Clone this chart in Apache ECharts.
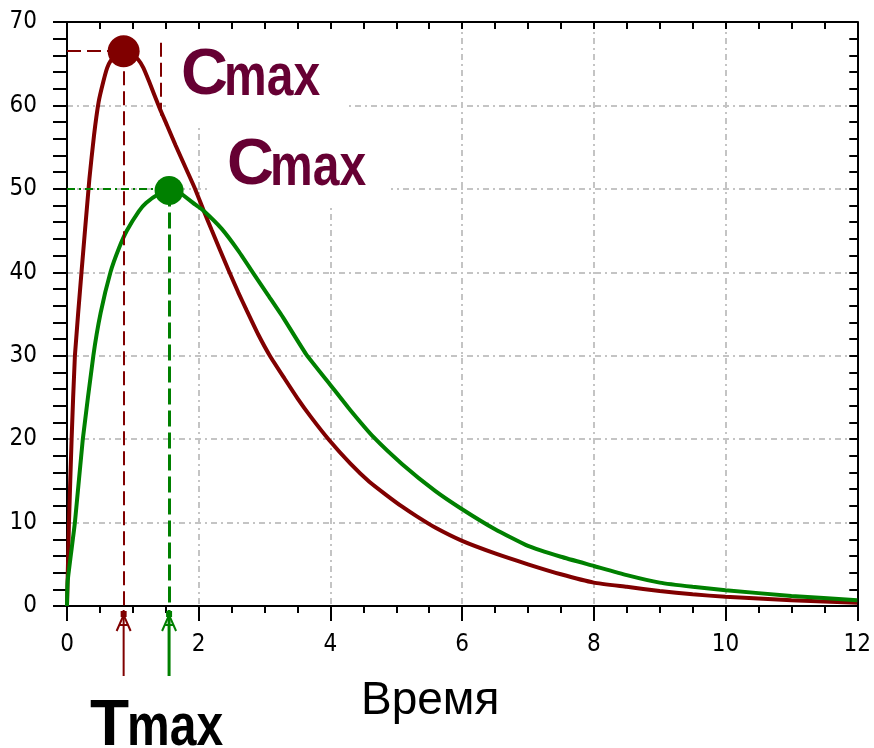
<!DOCTYPE html>
<html>
<head>
<meta charset="utf-8">
<script src="https://cdn.jsdelivr.net/npm/echarts@6/dist/echarts.min.js"></script>
<style>
  html, body { margin: 0; padding: 0; background: #fff; }
  #chart { width: 874px; height: 748px; }
</style>
</head>
<body>
<div id="chart"></div>
<script>
// кривые концентрации (время, ч / концентрация)
var redTime = [0, 0.03, 0.07, 0.12, 0.22, 0.34, 0.41, 0.48, 0.55, 0.61, 0.66, 0.76, 0.86, 0.96, 1.08, 1.16, 1.25, 1.41, 1.52, 1.65, 1.82, 1.95, 2.07, 2.2, 2.45, 2.6, 2.73, 2.9, 3.08, 3.3, 3.5, 3.7, 3.98, 4.3, 4.59, 4.85, 5.09, 5.3, 5.59, 6.0, 6.5, 7.0, 7.5, 8.0, 8.5, 9.0, 9.5, 10.0, 11.0, 12.0];
var redConc = [0, 10, 20, 30, 40, 51.2, 56.4, 60.4, 62.8, 64.5, 65.3, 66.2, 66.5, 66.3, 65.5, 64.5, 62.8, 59.6, 57.6, 55.2, 52.2, 49.9, 47.5, 45, 40.3, 37.6, 35.4, 32.6, 30, 27.3, 24.9, 22.7, 19.9, 17.1, 14.9, 13.3, 11.9, 10.8, 9.4, 7.8, 6.3, 5.0, 3.8, 2.8, 2.3, 1.8, 1.4, 1.1, 0.7, 0.4];
var greenTime = [0, 0.01, 0.12, 0.24, 0.40, 0.51, 0.66, 0.79, 0.91, 1.09, 1.2, 1.4, 1.55, 1.7, 1.95, 2.07, 2.35, 2.6, 2.82, 3.05, 3.28, 3.63, 4.0, 4.3, 4.66, 5.09, 5.59, 6.0, 6.5, 7.0, 7.5, 8.0, 8.5, 9.0, 9.5, 10.0, 11.0, 12.0];
var greenConc = [0, 3, 10, 20, 30, 35.1, 40, 42.9, 45.0, 47.3, 48.3, 49.4, 49.8, 49.6, 48.1, 47.4, 45.2, 42.6, 40, 37.3, 34.6, 30.2, 26.5, 23.5, 20.2, 17.0, 13.8, 11.6, 9.2, 7.2, 5.9, 4.8, 3.7, 2.8, 2.3, 1.9, 1.2, 0.7];

// Tmax / Cmax
var tmaxValues = [0.86, 1.55];
var cmaxValues = [66.5, 49.8];
var curveColors = ['#800000', '#008000'];

var textColor = '#660033';
var tickFont = '"Liberation Sans Narrow", "DejaVu Sans Condensed", sans-serif';

function pairs(xs, ys) {
    return xs.map(function (x, i) { return [x, ys[i]]; });
}

var chart = echarts.init(document.getElementById('chart'));

var gridLine = { show: true, lineStyle: { color: '#c4c4c4', width: 2, type: [6, 4, 2, 4] } };

var option = {
    animation: false,
    backgroundColor: '#fff',
    grid: { left: 67, right: 12, top: 22, bottom: 142 },
    xAxis: [
        {
            type: 'value', min: 0, max: 12, interval: 2, position: 'bottom',
            axisLine: { onZero: false, lineStyle: { color: '#000', width: 2 } },
            axisTick: { length: 15, lineStyle: { color: '#000', width: 2 } },
            minorTick: { show: true, splitNumber: 4, length: 7, lineStyle: { color: '#000', width: 2 } },
            axisLabel: { color: '#000', fontFamily: tickFont, fontSize: 24, margin: 27 },
            splitLine: gridLine
        },
        {
            type: 'value', min: 0, max: 12, interval: 0.5, position: 'top',
            axisLine: { onZero: false, lineStyle: { color: '#000', width: 2 } },
            axisTick: { inside: true, length: 7, lineStyle: { color: '#000', width: 2 } },
            axisLabel: { show: false },
            splitLine: { show: false }
        }
    ],
    yAxis: [
        {
            type: 'value', min: 0, max: 70, interval: 10, position: 'left',
            axisLine: { onZero: false, lineStyle: { color: '#000', width: 2 } },
            axisTick: { length: 14, lineStyle: { color: '#000', width: 2 } },
            minorTick: { show: true, splitNumber: 5, length: 14, lineStyle: { color: '#000', width: 2 } },
            axisLabel: { color: '#000', fontFamily: tickFont, fontSize: 24, margin: 30 },
            splitLine: gridLine
        },
        {
            type: 'value', min: 0, max: 70, interval: 2, position: 'right',
            axisLine: { onZero: false, lineStyle: { color: '#000', width: 2 } },
            axisTick: { inside: true, length: 8, lineStyle: { color: '#000', width: 2 } },
            axisLabel: { show: false },
            splitLine: { show: false }
        }
    ],
    series: [
        {
            type: 'line', name: 'A', data: pairs(redTime, redConc), showSymbol: false,
            smooth: 0.15,
            lineStyle: { color: curveColors[0], width: 4 }, z: 3,
            markLine: {
                silent: true, symbol: 'none', label: { show: false },
                lineStyle: { color: curveColors[0], width: 2, type: [14, 6] },
                data: [
                    [{ coord: [0, cmaxValues[0]] }, { coord: [tmaxValues[0], cmaxValues[0]] }],
                    [{ coord: [tmaxValues[0], cmaxValues[0]] }, { coord: [tmaxValues[0], 0] }],
                    [{ coord: [1.43, 67.5] }, { coord: [1.43, 58.8] }]
                ]
            }
        },
        {
            type: 'line', name: 'B', data: pairs(greenTime, greenConc), showSymbol: false,
            smooth: 0.15,
            lineStyle: { color: curveColors[1], width: 4 }, z: 4,
            markLine: {
                silent: true, symbol: 'none', label: { show: false },
                lineStyle: { color: curveColors[1], width: 3, type: [16, 6] },
                data: [
                    [{ coord: [0, 50], lineStyle: { width: 2, type: [8, 4, 2, 4] } }, { coord: [tmaxValues[1], 50] }],
                    [{ coord: [tmaxValues[1], cmaxValues[1]] }, { coord: [tmaxValues[1], 0] }]
                ]
            }
        },
        {
            type: 'scatter', z: 5, symbol: 'circle',
            data: [
                { value: [tmaxValues[0], cmaxValues[0]], symbolSize: 32, itemStyle: { color: curveColors[0], opacity: 1 } },
                { value: [tmaxValues[1], cmaxValues[1]], symbolSize: 29, itemStyle: { color: curveColors[1], opacity: 1 } }
            ]
        }
    ]
};

chart.setOption(option);

// подписи и отметки под осью
var graphics = [
    { type: 'rect', z: 1, shape: { x: 166, y: 31, width: 180, height: 93 }, style: { fill: '#fff' } },
    { type: 'rect', z: 1, shape: { x: 207, y: 124, width: 184, height: 84 }, style: { fill: '#fff' } },

    { type: 'text', z: 10, x: 181, y: 76, style: { text: 'C', font: 'bold 65px "Liberation Sans", Arial, sans-serif', fill: textColor, verticalAlign: 'middle' } },
    { type: 'text', z: 10, x: 224, y: 78, scaleX: 0.8, style: { text: 'max', font: 'bold 60px "Liberation Sans", Arial, sans-serif', fill: textColor, verticalAlign: 'middle' } },
    { type: 'text', z: 10, x: 227, y: 166, style: { text: 'C', font: 'bold 65px "Liberation Sans", Arial, sans-serif', fill: textColor, verticalAlign: 'middle' } },
    { type: 'text', z: 10, x: 270, y: 168, scaleX: 0.8, style: { text: 'max', font: 'bold 60px "Liberation Sans", Arial, sans-serif', fill: textColor, verticalAlign: 'middle' } },

    { type: 'text', z: 10, x: 90, y: 727, style: { text: 'T', font: 'bold 64px "Liberation Sans", Arial, sans-serif', fill: '#000', verticalAlign: 'middle' } },
    { type: 'text', z: 10, x: 127, y: 728, scaleX: 0.8, style: { text: 'max', font: 'bold 60px "Liberation Sans", Arial, sans-serif', fill: '#000', verticalAlign: 'middle' } },
    { type: 'text', z: 10, x: 361, y: 701, style: { text: 'Время', font: '46px "Liberation Sans", Arial, sans-serif', fill: '#000', verticalAlign: 'middle' } }
];

var y0 = chart.convertToPixel({ yAxisIndex: 0 }, 0);
tmaxValues.forEach(function (t, i) {
    var px = chart.convertToPixel({ xAxisIndex: 0 }, t);
    var c = curveColors[i];
    var w = i === 0 ? 2 : 3;
    graphics.push({ type: 'line', z: 6, shape: { x1: px, y1: y0 + 4, x2: px, y2: 676 }, style: { stroke: c, lineWidth: w } });
    graphics.push({ type: 'rect', z: 6, shape: { x: px - 3, y: y0 + 5, width: 6, height: 6 }, style: { fill: c } });
    graphics.push({ type: 'polyline', z: 6, shape: { points: [[px - 7, y0 + 25], [px, y0 + 9], [px + 7, y0 + 25]] }, style: { stroke: c, lineWidth: 2, fill: null } });
    graphics.push({ type: 'line', z: 6, shape: { x1: px - 4, y1: y0 + 19, x2: px + 4, y2: y0 + 19 }, style: { stroke: c, lineWidth: 2 } });
});

chart.setOption({ graphic: graphics });
</script>
</body>
</html>
